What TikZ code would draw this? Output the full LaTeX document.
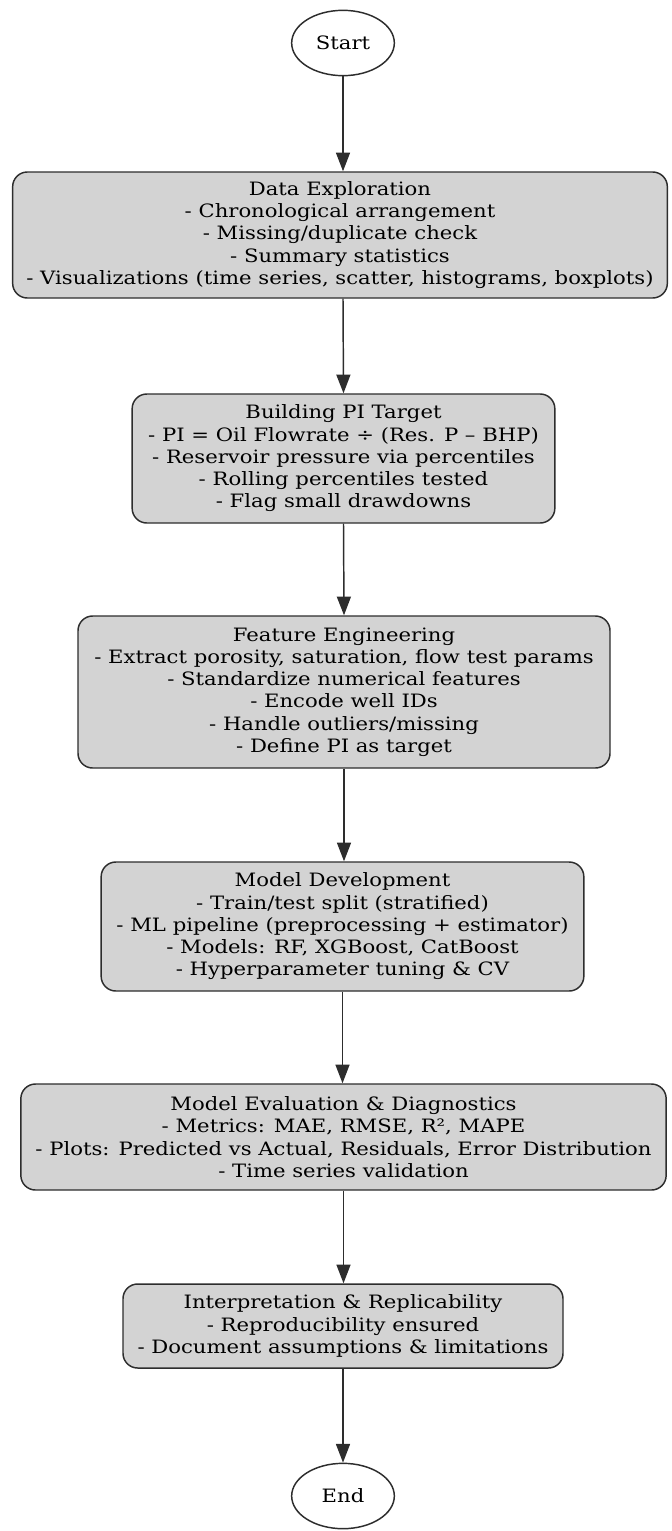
\documentclass[tikz,border=0pt]{standalone}
\usepackage{fontspec}
\setmainfont[FakeStretch=1.15]{DejaVu Serif}
\usetikzlibrary{arrows.meta,shapes.geometric}
\definecolor{boxfill}{RGB}{211,211,211}
\definecolor{edgecol}{RGB}{45,45,45}
\begin{document}
\begin{tikzpicture}[x=0.75pt,y=-0.75pt,
  box/.style={draw=edgecol, fill=boxfill, rounded corners=11pt, line width=1.1pt,
    align=center, inner sep=0pt, font=\fontsize{13.8}{16.7}\selectfont},
  term/.style={ellipse, draw=edgecol, fill=white, line width=1.1pt, inner sep=0pt,
    minimum width=77pt, minimum height=49pt, font=\fontsize{13.8}{16.7}\selectfont},
  flow/.style={draw=edgecol, line width=1.1pt, -{Triangle[length=14pt,width=10.5pt]}}]
\useasboundingbox (0,0) rectangle (671,1531);

\node[term] (start) at (343,43) {Start};

\node[box, minimum width=491pt, minimum height=94.5pt] (explore) at (340,235)
  {Data Exploration\\- Chronological arrangement\\- Missing/duplicate check\\- Summary statistics\\- Visualizations (time series, scatter, histograms, boxplots)};

\node[box, minimum width=317pt, minimum height=96.75pt] (target) at (343.5,458.5)
  {Building PI Target\\- PI = Oil Flowrate ÷ (Res. P – BHP)\\- Reservoir pressure via percentiles\\- Rolling percentiles tested\\- Flag small drawdowns};

\node[box, minimum width=399pt, minimum height=114pt] (feature) at (344,692)
  {Feature Engineering\\- Extract porosity, saturation, flow test params\\- Standardize numerical features\\- Encode well IDs\\- Handle outliers/missing\\- Define PI as target};

\node[box, minimum width=362pt, minimum height=96.75pt] (model) at (342.5,926.5)
  {Model Development\\- Train/test split (stratified)\\- ML pipeline (preprocessing + estimator)\\- Models: RF, XGBoost, CatBoost\\- Hyperparameter tuning \& CV};

\node[box, minimum width=484pt, minimum height=79.5pt] (eval) at (343.5,1137)
  {Model Evaluation \& Diagnostics\\- Metrics: MAE, RMSE, R², MAPE\\- Plots: Predicted vs Actual, Residuals, Error Distribution\\- Time series validation};

\node[box, minimum width=330pt, minimum height=63pt] (interp) at (343,1326)
  {Interpretation \& Replicability\\- Reproducibility ensured\\- Document assumptions \& limitations};

\node[term] (end) at (343,1496) {End};

\draw[flow] (start.south) -- (start.south |- explore.north);
\draw[flow] (start.south |- explore.south) -- (target.north);
\draw[flow] (target.south) -- (feature.north);
\draw[flow] (feature.south) -- (feature.south |- model.north);
\draw[flow] (model.south) -- (model.south |- eval.north);
\draw[flow] (eval.south) -- (eval.south |- interp.north);
\draw[flow] (interp.south) -- (end.north);
\end{tikzpicture}
\end{document}
